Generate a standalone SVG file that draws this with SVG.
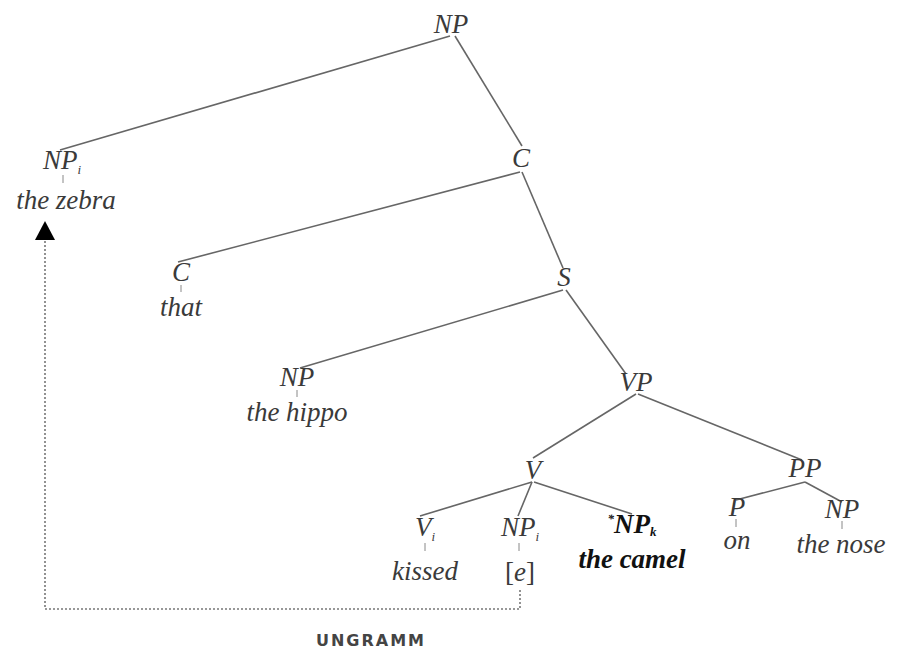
<svg xmlns="http://www.w3.org/2000/svg" width="898" height="661" viewBox="0 0 898 661">
<defs>
<style>
.l{font-family:'Liberation Serif','Times New Roman','DejaVu Serif',serif;font-style:italic;font-size:27px;fill:#3a3a3a;text-anchor:middle}
.b{font-weight:bold;fill:#111}
.sub{font-size:13px}
.e{font-family:'Liberation Serif','Times New Roman','DejaVu Serif',serif;font-style:normal;font-size:27px;fill:#3a3a3a;text-anchor:middle}
.edge{stroke:#666;stroke-width:1.6;fill:none}
.tick{stroke:#888;stroke-width:1;fill:none}
.dot{stroke:#777;stroke-width:1.6;stroke-dasharray:2 2;fill:none}
.ung{font-family:'DejaVu Sans',Verdana,sans-serif;font-weight:bold;font-size:16px;fill:#444;text-anchor:middle;letter-spacing:2px}
</style>
</defs>
<rect width="898" height="661" fill="#fff"/>
<g id="connectors">
<line class="edge" x1="450" y1="36" x2="60" y2="150"/>
<line class="edge" x1="455" y1="36" x2="522" y2="146"/>
<line class="edge" x1="520" y1="172" x2="178" y2="262"/>
<line class="edge" x1="522" y1="172" x2="563" y2="268"/>
<line class="edge" x1="563" y1="290" x2="300" y2="368"/>
<line class="edge" x1="566" y1="290" x2="626" y2="374"/>
<line class="edge" x1="636" y1="394" x2="533" y2="458"/>
<line class="edge" x1="638" y1="394" x2="802" y2="460"/>
<line class="edge" x1="532" y1="482" x2="420" y2="516"/>
<line class="edge" x1="532" y1="482" x2="518" y2="516"/>
<line class="edge" x1="534" y1="482" x2="632" y2="514"/>
<line class="edge" x1="805" y1="482" x2="736" y2="500"/>
<line class="edge" x1="805" y1="482" x2="842" y2="502"/>
<path class="dot" d="M520,590 V609 H45 V240"/>
<path d="M45,221 L35,240 L55,240 z" fill="#000"/>
</g>
<g id="n-np-root"><text class="l" x="451" y="33">NP</text></g>
<g id="n-np-zebra"><text class="l" x="62" y="169">NP<tspan class="sub" dy="5">i</tspan></text>
<line class="tick" x1="63" y1="175" x2="63" y2="183"/>
<text class="l" x="66" y="209">the zebra</text></g>
<g id="n-cbar"><text class="l" x="521" y="167">C</text></g>
<g id="n-c"><text class="l" x="181" y="281">C</text>
<line class="tick" x1="181" y1="285" x2="181" y2="292"/>
<text class="l" x="181" y="316">that</text></g>
<g id="n-s"><text class="l" x="564" y="286">S</text></g>
<g id="n-np-hippo"><text class="l" x="297" y="386">NP</text>
<line class="tick" x1="297" y1="390" x2="297" y2="397"/>
<text class="l" x="297" y="421">the hippo</text></g>
<g id="n-vp"><text class="l" x="636" y="391">VP</text></g>
<g id="n-vbar"><text class="l" x="533" y="479">V</text></g>
<g id="n-pp"><text class="l" x="805" y="477">PP</text></g>
<g id="n-vi"><text class="l" x="425" y="536">V<tspan class="sub" dy="5">i</tspan></text>
<line class="tick" x1="425" y1="543" x2="425" y2="551"/>
<text class="l" x="425" y="580">kissed</text></g>
<g id="n-npi"><text class="l" x="520" y="536">NP<tspan class="sub" dy="5">i</tspan></text>
<line class="tick" x1="519" y1="543" x2="519" y2="551"/>
<text class="e" x="520" y="581">[<tspan font-style="italic">e</tspan>]</text></g>
<g id="n-npk"><text class="l b" x="632" y="533"><tspan class="sub" dy="-10">*</tspan><tspan dy="10">NP</tspan><tspan class="sub" dy="3">k</tspan></text>
<text class="l b" x="632" y="568">the camel</text></g>
<g id="n-p"><text class="l" x="737" y="516">P</text>
<line class="tick" x1="736" y1="519" x2="736" y2="527"/>
<text class="l" x="737" y="549">on</text></g>
<g id="n-np-nose"><text class="l" x="842" y="518">NP</text>
<line class="tick" x1="842" y1="521" x2="842" y2="529"/>
<text class="l" x="841" y="553">the nose</text></g>
<text class="ung" x="371" y="646">UNGRAMM</text>
</svg>
